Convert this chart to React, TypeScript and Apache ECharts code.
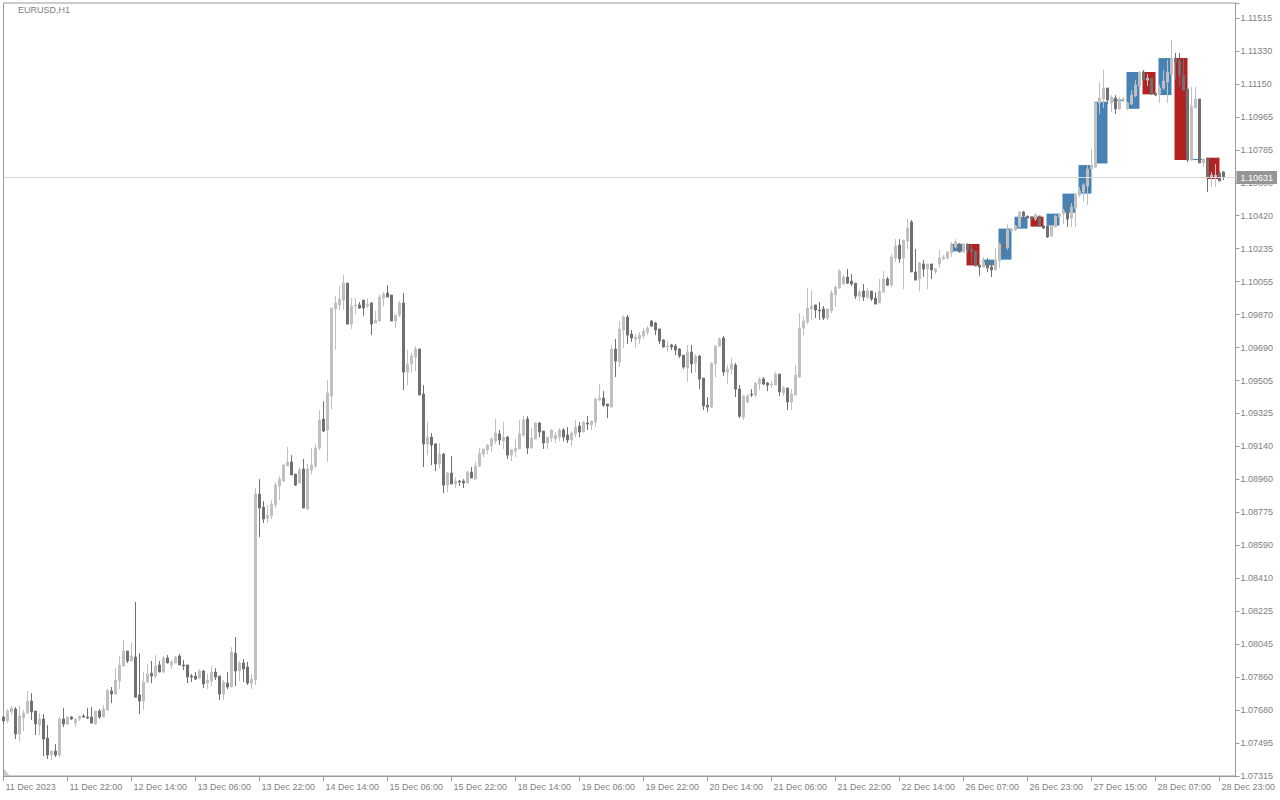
import React, { useEffect, useRef } from 'react';
import * as echarts from 'echarts';

const chartTitle = 'EURUSD,H1';
const lastPrice = 1.10631;

const xTickLabels = [
  '11 Dec 2023', '11 Dec 22:00', '12 Dec 14:00', '13 Dec 06:00', '13 Dec 22:00',
  '14 Dec 14:00', '15 Dec 06:00', '15 Dec 22:00', '18 Dec 14:00', '19 Dec 06:00',
  '19 Dec 22:00', '20 Dec 14:00', '21 Dec 06:00', '21 Dec 22:00', '22 Dec 14:00',
  '26 Dec 07:00', '26 Dec 23:00', '27 Dec 15:00', '28 Dec 07:00', '28 Dec 23:00',
];

const yTickLabels = [
  '1.07315', '1.07495', '1.07680', '1.07860', '1.08045', '1.08225', '1.08410', '1.08590',
  '1.08775', '1.08960', '1.09140', '1.09325', '1.09505', '1.09690', '1.09870', '1.10055',
  '1.10235', '1.10420', '1.10600', '1.10785', '1.10965', '1.11150', '1.11330', '1.11515',
];

const opens = [
  1.07642, 1.07620, 1.07670, 1.07686, 1.07548, 1.07636, 1.07664, 1.07730, 1.07675, 1.07597,
  1.07631, 1.07525, 1.07431, 1.07453, 1.07431, 1.07631, 1.07603, 1.07642, 1.07608, 1.07631,
  1.07647, 1.07642, 1.07642, 1.07603, 1.07675, 1.07642, 1.07681, 1.07786, 1.07769, 1.07841,
  1.07924, 1.08007, 1.07952, 1.07974, 1.07764, 1.07730, 1.07836, 1.07885, 1.07869, 1.07930,
  1.07891, 1.07969, 1.07930, 1.07941, 1.07980, 1.07930, 1.07930, 1.07869, 1.07869, 1.07858,
  1.07897, 1.07830, 1.07841, 1.07891, 1.07869, 1.07769, 1.07830, 1.07808, 1.07996, 1.07897,
  1.07941, 1.07919, 1.07830, 1.07847, 1.08877, 1.08805, 1.08744, 1.08755, 1.08817, 1.08922,
  1.08949, 1.09033, 1.09055, 1.08988, 1.08938, 1.09016, 1.08794, 1.09010, 1.09033, 1.09132,
  1.09293, 1.09232, 1.09420, 1.09903, 1.09925, 1.09952, 1.10046, 1.09819, 1.09919, 1.09925,
  1.09952, 1.09919, 1.09936, 1.09825, 1.09836, 1.09963, 1.09991, 1.09980, 1.09836, 1.09869,
  1.09936, 1.09553, 1.09598, 1.09636, 1.09681, 1.09432, 1.09155, 1.09193, 1.09155, 1.09044,
  1.09099, 1.08927, 1.08994, 1.08933, 1.08949, 1.08949, 1.08938, 1.08999, 1.08960, 1.09033,
  1.09099, 1.09121, 1.09143, 1.09171, 1.09210, 1.09171, 1.09193, 1.09093, 1.09115, 1.09127,
  1.09204, 1.09293, 1.09132, 1.09182, 1.09271, 1.09226, 1.09160, 1.09188, 1.09182, 1.09193,
  1.09232, 1.09204, 1.09177, 1.09210, 1.09254, 1.09221, 1.09271, 1.09260, 1.09276, 1.09398,
  1.09409, 1.09376, 1.09359, 1.09681, 1.09609, 1.09786, 1.09858, 1.09764, 1.09736, 1.09736,
  1.09753, 1.09775, 1.09836, 1.09825, 1.09792, 1.09731, 1.09692, 1.09703, 1.09697, 1.09681,
  1.09647, 1.09576, 1.09664, 1.09603, 1.09642, 1.09520, 1.09370, 1.09359, 1.09598, 1.09697,
  1.09742, 1.09553, 1.09570, 1.09592, 1.09459, 1.09304, 1.09387, 1.09431, 1.09426, 1.09487,
  1.09515, 1.09492, 1.09481, 1.09481, 1.09542, 1.09437, 1.09465, 1.09387, 1.09426, 1.09526,
  1.09797, 1.09831, 1.09903, 1.09925, 1.09897, 1.09903, 1.09853, 1.09892, 1.09980, 1.10019,
  1.10041, 1.10080, 1.10057, 1.10046, 1.09974, 1.10002, 1.09969, 1.10002, 1.09963, 1.09936,
  1.09996, 1.10069, 1.10035, 1.10185, 1.10257, 1.10185, 1.10279, 1.10385, 1.10108, 1.10069,
  1.10152, 1.10124, 1.10152, 1.10108, 1.10152, 1.10180, 1.10185, 1.10213, 1.10246, 1.10263,
  1.10218, 1.10263, 1.10235, 1.10224, 1.10146, 1.10135, 1.10158, 1.10135, 1.10119, 1.10168,
  1.10263, 1.10241, 1.10335, 1.10340, 1.10357, 1.10440, 1.10418, 1.10413, 1.10401, 1.10418,
  1.10363, 1.10363, 1.10307, 1.10357, 1.10413, 1.10429, 1.10435, 1.10407, 1.10462, 1.10534,
  1.10551, 1.10584, 1.10678, 1.10689, 1.11044, 1.11066, 1.11127, 1.11044, 1.11072, 1.11011,
  1.11061, 1.11011, 1.11038, 1.11083, 1.11138, 1.11216, 1.11171, 1.11182, 1.11099, 1.11094,
  1.11127, 1.11160, 1.11205, 1.11293, 1.11277, 1.11199, 1.11122, 1.10728, 1.11016, 1.11066,
  1.10712, 1.10739, 1.10634, 1.10634, 1.10656, 1.10662,
];

const highs = [
  1.07647, 1.07686, 1.07703, 1.07697, 1.07703, 1.07681, 1.07786, 1.07774, 1.07675, 1.07664,
  1.07658, 1.07597, 1.07453, 1.07492, 1.07642, 1.07692, 1.07642, 1.07647, 1.07631, 1.07647,
  1.07658, 1.07692, 1.07697, 1.07675, 1.07686, 1.07708, 1.07797, 1.07808, 1.07913, 1.07980,
  1.08068, 1.08007, 1.08052, 1.08279, 1.07996, 1.07891, 1.07935, 1.07952, 1.07985, 1.07952,
  1.07980, 1.07985, 1.07958, 1.07980, 1.07991, 1.07958, 1.07930, 1.07880, 1.07891, 1.07908,
  1.07902, 1.07880, 1.07924, 1.07913, 1.07869, 1.07847, 1.07891, 1.08029, 1.08085, 1.07952,
  1.07963, 1.07947, 1.07880, 1.08911, 1.08960, 1.08838, 1.08817, 1.08844, 1.08944, 1.08977,
  1.09044, 1.09138, 1.09093, 1.08988, 1.09027, 1.09071, 1.09044, 1.09132, 1.09154, 1.09343,
  1.09392, 1.09509, 1.09908, 1.09974, 1.10030, 1.10091, 1.10046, 1.09963, 1.09963, 1.09941,
  1.09952, 1.09963, 1.09941, 1.09892, 1.09985, 1.09996, 1.10035, 1.09980, 1.09869, 1.09947,
  1.09991, 1.09675, 1.09659, 1.09697, 1.09681, 1.09481, 1.09276, 1.09215, 1.09160, 1.09160,
  1.09104, 1.08999, 1.09088, 1.08971, 1.08955, 1.08960, 1.09005, 1.09027, 1.09055, 1.09132,
  1.09127, 1.09154, 1.09193, 1.09293, 1.09232, 1.09276, 1.09199, 1.09127, 1.09182, 1.09287,
  1.09309, 1.09309, 1.09243, 1.09276, 1.09276, 1.09226, 1.09193, 1.09237, 1.09221, 1.09243,
  1.09243, 1.09248, 1.09226, 1.09287, 1.09276, 1.09282, 1.09309, 1.09282, 1.09409, 1.09487,
  1.09448, 1.09376, 1.09703, 1.09736, 1.09836, 1.09869, 1.09869, 1.09786, 1.09764, 1.09775,
  1.09797, 1.09808, 1.09842, 1.09831, 1.09792, 1.09736, 1.09725, 1.09709, 1.09709, 1.09686,
  1.09647, 1.09703, 1.09703, 1.09653, 1.09647, 1.09520, 1.09415, 1.09609, 1.09703, 1.09747,
  1.09753, 1.09592, 1.09631, 1.09603, 1.09481, 1.09426, 1.09431, 1.09459, 1.09498, 1.09526,
  1.09526, 1.09498, 1.09503, 1.09553, 1.09542, 1.09476, 1.09465, 1.09459, 1.09592, 1.09880,
  1.09864, 1.10019, 1.10008, 1.09925, 1.09941, 1.09919, 1.09908, 1.10008, 1.10035, 1.10124,
  1.10091, 1.10124, 1.10096, 1.10046, 1.10008, 1.10041, 1.10019, 1.10002, 1.09996, 1.10069,
  1.10113, 1.10080, 1.10207, 1.10290, 1.10290, 1.10285, 1.10401, 1.10396, 1.10235, 1.10163,
  1.10174, 1.10152, 1.10152, 1.10130, 1.10230, 1.10202, 1.10224, 1.10274, 1.10290, 1.10268,
  1.10268, 1.10263, 1.10257, 1.10224, 1.10146, 1.10191, 1.10185, 1.10163, 1.10241, 1.10268,
  1.10324, 1.10374, 1.10351, 1.10368, 1.10446, 1.10446, 1.10418, 1.10413, 1.10435, 1.10418,
  1.10363, 1.10363, 1.10363, 1.10424, 1.10429, 1.10457, 1.10496, 1.10490, 1.10540, 1.10578,
  1.10601, 1.10700, 1.10789, 1.11044, 1.11160, 1.11227, 1.11127, 1.11088, 1.11088, 1.11077,
  1.11077, 1.11050, 1.11116, 1.11171, 1.11216, 1.11227, 1.11205, 1.11182, 1.11099, 1.11144,
  1.11227, 1.11282, 1.11393, 1.11321, 1.11321, 1.11288, 1.11122, 1.11133, 1.11133, 1.11066,
  1.10734, 1.10739, 1.10662, 1.10706, 1.10667, 1.10667,
];

const lows = [
  1.07603, 1.07608, 1.07653, 1.07520, 1.07503, 1.07564, 1.07658, 1.07625, 1.07542, 1.07542,
  1.07425, 1.07409, 1.07404, 1.07420, 1.07420, 1.07586, 1.07597, 1.07625, 1.07586, 1.07620,
  1.07636, 1.07631, 1.07608, 1.07603, 1.07631, 1.07642, 1.07675, 1.07719, 1.07769, 1.07797,
  1.07919, 1.07941, 1.07952, 1.07752, 1.07658, 1.07681, 1.07830, 1.07830, 1.07858, 1.07891,
  1.07885, 1.07941, 1.07908, 1.07941, 1.07930, 1.07902, 1.07830, 1.07836, 1.07847, 1.07852,
  1.07802, 1.07797, 1.07814, 1.07847, 1.07736, 1.07736, 1.07797, 1.07808, 1.07814, 1.07841,
  1.07836, 1.07819, 1.07797, 1.07819, 1.08639, 1.08717, 1.08717, 1.08739, 1.08800, 1.08844,
  1.08944, 1.09033, 1.08983, 1.08922, 1.08938, 1.08800, 1.08789, 1.08988, 1.09021, 1.09121,
  1.09221, 1.09055, 1.09348, 1.09675, 1.09897, 1.09897, 1.09819, 1.09792, 1.09875, 1.09903,
  1.09864, 1.09908, 1.09758, 1.09825, 1.09836, 1.09919, 1.09969, 1.09836, 1.09797, 1.09858,
  1.09454, 1.09481, 1.09548, 1.09559, 1.09426, 1.09027, 1.09093, 1.09038, 1.09005, 1.09021,
  1.08883, 1.08888, 1.08933, 1.08911, 1.08922, 1.08911, 1.08938, 1.08966, 1.08960, 1.09027,
  1.09082, 1.09099, 1.09110, 1.09154, 1.09149, 1.09127, 1.09071, 1.09060, 1.09082, 1.09127,
  1.09193, 1.09099, 1.09132, 1.09182, 1.09193, 1.09127, 1.09127, 1.09165, 1.09160, 1.09171,
  1.09171, 1.09160, 1.09143, 1.09193, 1.09193, 1.09221, 1.09232, 1.09232, 1.09248, 1.09392,
  1.09359, 1.09298, 1.09359, 1.09526, 1.09581, 1.09687, 1.09709, 1.09720, 1.09687, 1.09709,
  1.09736, 1.09758, 1.09803, 1.09758, 1.09709, 1.09687, 1.09664, 1.09675, 1.09647, 1.09631,
  1.09570, 1.09498, 1.09548, 1.09553, 1.09459, 1.09343, 1.09332, 1.09354, 1.09526, 1.09692,
  1.09531, 1.09487, 1.09542, 1.09415, 1.09298, 1.09287, 1.09381, 1.09415, 1.09415, 1.09454,
  1.09481, 1.09448, 1.09465, 1.09481, 1.09420, 1.09420, 1.09343, 1.09343, 1.09426, 1.09520,
  1.09758, 1.09819, 1.09842, 1.09853, 1.09842, 1.09842, 1.09842, 1.09880, 1.09914, 1.10013,
  1.10035, 1.10041, 1.10030, 1.09958, 1.09947, 1.09947, 1.09958, 1.09947, 1.09930, 1.09936,
  1.09996, 1.10030, 1.10024, 1.10163, 1.10158, 1.10013, 1.10235, 1.10108, 1.10063, 1.10000,
  1.10080, 1.10013, 1.10069, 1.10097, 1.10130, 1.10174, 1.10174, 1.10191, 1.10241, 1.10218,
  1.10213, 1.10213, 1.10158, 1.10141, 1.10086, 1.10135, 1.10108, 1.10080, 1.10119, 1.10130,
  1.10196, 1.10230, 1.10329, 1.10335, 1.10357, 1.10390, 1.10407, 1.10401, 1.10390, 1.10357,
  1.10346, 1.10296, 1.10302, 1.10357, 1.10401, 1.10374, 1.10357, 1.10357, 1.10357, 1.10523,
  1.10496, 1.10479, 1.10617, 1.10684, 1.10983, 1.11016, 1.11038, 1.10994, 1.10983, 1.11005,
  1.11050, 1.11005, 1.11033, 1.11077, 1.11088, 1.11171, 1.11138, 1.11088, 1.11083, 1.11044,
  1.11116, 1.11044, 1.11205, 1.11171, 1.11138, 1.11116, 1.10717, 1.10723, 1.11016, 1.10712,
  1.10689, 1.10551, 1.10579, 1.10579, 1.10612, 1.10617,
];

const closes = [
  1.07620, 1.07675, 1.07691, 1.07548, 1.07647, 1.07664, 1.07730, 1.07670, 1.07603, 1.07631,
  1.07520, 1.07431, 1.07453, 1.07431, 1.07631, 1.07603, 1.07642, 1.07631, 1.07631, 1.07647,
  1.07642, 1.07636, 1.07608, 1.07675, 1.07642, 1.07686, 1.07791, 1.07769, 1.07847, 1.07930,
  1.08007, 1.07952, 1.07980, 1.07752, 1.07730, 1.07836, 1.07880, 1.07869, 1.07924, 1.07891,
  1.07969, 1.07941, 1.07947, 1.07974, 1.07930, 1.07924, 1.07863, 1.07863, 1.07852, 1.07897,
  1.07825, 1.07847, 1.07891, 1.07863, 1.07769, 1.07836, 1.07808, 1.08002, 1.07897, 1.07941,
  1.07908, 1.07830, 1.07852, 1.08877, 1.08800, 1.08739, 1.08761, 1.08822, 1.08927, 1.08960,
  1.09038, 1.09055, 1.08983, 1.08927, 1.09010, 1.08800, 1.09016, 1.09038, 1.09132, 1.09287,
  1.09226, 1.09437, 1.09908, 1.09936, 1.09958, 1.10046, 1.09819, 1.09919, 1.09925, 1.09908,
  1.09908, 1.09930, 1.09819, 1.09842, 1.09969, 1.09985, 1.09969, 1.09836, 1.09869, 1.09936,
  1.09553, 1.09598, 1.09642, 1.09681, 1.09426, 1.09155, 1.09193, 1.09149, 1.09044, 1.09099,
  1.08927, 1.08994, 1.08933, 1.08949, 1.08944, 1.08938, 1.08999, 1.08966, 1.09033, 1.09104,
  1.09127, 1.09149, 1.09182, 1.09215, 1.09177, 1.09193, 1.09093, 1.09121, 1.09132, 1.09210,
  1.09287, 1.09132, 1.09188, 1.09271, 1.09221, 1.09160, 1.09193, 1.09232, 1.09204, 1.09232,
  1.09193, 1.09177, 1.09215, 1.09248, 1.09221, 1.09276, 1.09265, 1.09282, 1.09404, 1.09409,
  1.09370, 1.09365, 1.09681, 1.09614, 1.09792, 1.09858, 1.09758, 1.09742, 1.09747, 1.09758,
  1.09781, 1.09797, 1.09808, 1.09786, 1.09725, 1.09692, 1.09697, 1.09692, 1.09675, 1.09642,
  1.09581, 1.09664, 1.09598, 1.09642, 1.09515, 1.09365, 1.09359, 1.09603, 1.09697, 1.09736,
  1.09553, 1.09570, 1.09598, 1.09459, 1.09309, 1.09420, 1.09420, 1.09426, 1.09492, 1.09515,
  1.09487, 1.09481, 1.09487, 1.09542, 1.09443, 1.09465, 1.09387, 1.09431, 1.09537, 1.09797,
  1.09836, 1.09908, 1.09919, 1.09897, 1.09892, 1.09853, 1.09903, 1.09991, 1.10024, 1.10113,
  1.10080, 1.10046, 1.10041, 1.09974, 1.09996, 1.09969, 1.10002, 1.09958, 1.09930, 1.10002,
  1.10069, 1.10035, 1.10191, 1.10252, 1.10180, 1.10285, 1.10351, 1.10108, 1.10063, 1.10158,
  1.10124, 1.10152, 1.10119, 1.10124, 1.10185, 1.10191, 1.10218, 1.10257, 1.10274, 1.10218,
  1.10263, 1.10230, 1.10218, 1.10141, 1.10135, 1.10163, 1.10130, 1.10119, 1.10174, 1.10263,
  1.10241, 1.10340, 1.10346, 1.10362, 1.10440, 1.10418, 1.10407, 1.10401, 1.10424, 1.10363,
  1.10351, 1.10302, 1.10363, 1.10418, 1.10429, 1.10446, 1.10401, 1.10468, 1.10540, 1.10556,
  1.10590, 1.10678, 1.10700, 1.11044, 1.11072, 1.11127, 1.11061, 1.11077, 1.11011, 1.11061,
  1.11066, 1.11044, 1.11088, 1.11144, 1.11216, 1.11171, 1.11182, 1.11094, 1.11088, 1.11127,
  1.11166, 1.11216, 1.11293, 1.11271, 1.11194, 1.11116, 1.10728, 1.11027, 1.11066, 1.10712,
  1.10734, 1.10634, 1.10645, 1.10645, 1.10612, 1.10631,
];

// H4 overlay boxes: first H1 bar of the block, open and close of the block
const boxStarts = [237, 241, 245, 249, 253, 257, 261, 265, 269, 273, 277, 281, 285, 289, 293, 297, 301];
const boxOpens = [
  1.10222, 1.10263, 1.10144, 1.10176, 1.10348, 1.10414, 1.10365, 1.10436, 1.10542,
  1.10709, 1.11055, 1.11012, 1.11216, 1.11088, 1.11293, 1.10728, 1.10741,
];
const boxCloses = [
  1.10263, 1.10144, 1.10176, 1.10348, 1.10414, 1.10359, 1.10431, 1.10542, 1.10700,
  1.11051, 1.11063, 1.11216, 1.11092, 1.11293, 1.10728, 1.10734, 1.10623,
];

const SLOTS = 309;
const Y_MIN = 1.07315;
const Y_STEP = (1.11515 - 1.07315) / 23;
const Y_MAX = 1.07315 + Y_STEP * (773 / 32.956);
const FONT = '"Liberation Sans", Arial, sans-serif';
const TEXT = '#808080';
const FRAME = '#9a9a9a';
const BULL = '#c0c0c0';
const BEAR = '#707070';
const BOX_UP = '#4682b4';
const BOX_DOWN = '#b22222';

export default function App() {
  const ref = useRef<HTMLDivElement>(null);

  useEffect(() => {
    if (!ref.current) return;
    const chart = echarts.init(ref.current, null, { renderer: 'svg' });
    const cats = Array.from({ length: SLOTS }, (_, i) => String(i));
    const candles = opens.map((o, i) => [o, closes[i], lows[i], highs[i]]);
    const boxes = boxStarts.map((s, i) => [s, boxOpens[i], boxCloses[i]]);

    chart.setOption({
      animation: false,
      backgroundColor: '#ffffff',
      grid: {
        left: 3.5,
        right: 44.5,
        top: 3,
        bottom: 24,
        show: true,
        borderColor: FRAME,
        borderWidth: 1,
        backgroundColor: '#ffffff',
      },
      xAxis: {
        type: 'category',
        data: cats,
        boundaryGap: false,
        axisLine: { show: true, lineStyle: { color: FRAME, width: 1 } },
        axisTick: { show: true, interval: 15, length: 5, lineStyle: { color: FRAME } },
        axisLabel: {
          interval: 15,
          align: 'left',
          margin: 6,
          padding: [0, 0, 0, 2],
          color: TEXT,
          fontSize: 9,
          fontFamily: FONT,
          formatter: (_v: string, idx: number) =>
            idx % 16 === 0 && xTickLabels[idx / 16] ? xTickLabels[idx / 16] : '',
        },
        splitLine: { show: false },
      },
      yAxis: {
        type: 'value',
        position: 'right',
        min: Y_MIN,
        max: Y_MAX,
        interval: Y_STEP,
        axisLine: { show: true, lineStyle: { color: FRAME, width: 1 } },
        axisTick: { show: true, length: 4, lineStyle: { color: FRAME } },
        splitLine: { show: false },
        axisLabel: {
          margin: 5,
          color: TEXT,
          fontSize: 9,
          fontFamily: FONT,
          formatter: (v: number) => {
            const f = (v - Y_MIN) / Y_STEP;
            const i = Math.round(f);
            return Math.abs(f - i) < 0.05 && i >= 0 && i < yTickLabels.length ? yTickLabels[i] : '';
          },
        },
      },
      graphic: [
        {
          type: 'text',
          left: 18,
          top: 5,
          silent: true,
          style: { text: chartTitle, fill: TEXT, font: `9px ${FONT}` },
        },
        {
          type: 'polygon',
          silent: true,
          shape: { points: [[4, 769], [4, 776], [10, 776]] },
          style: { fill: '#c8c8c8' },
        },
      ],
      series: [
        {
          type: 'custom',
          name: 'H4',
          z: 1,
          clip: true,
          silent: true,
          data: boxes,
          encode: { x: 0, y: [1, 2] },
          renderItem: (_params: any, api: any) => {
            const s = api.value(0);
            const o = api.value(1);
            const c = api.value(2);
            const bw = api.size([1, 0])[0];
            const pTop = api.coord([s, Math.max(o, c)]);
            const pBot = api.coord([s, Math.min(o, c)]);
            const h = Math.max(1, pBot[1] - pTop[1]);
            return {
              type: 'rect',
              shape: { x: pTop[0] - 1, y: pTop[1], width: bw * 3 + 1, height: h },
              style: { fill: c >= o ? BOX_UP : BOX_DOWN },
            };
          },
        },
        {
          type: 'candlestick',
          name: 'EURUSD',
          z: 3,
          barWidth: 2,
          silent: true,
          data: candles,
          itemStyle: {
            color: BULL,
            color0: BEAR,
            borderColor: BULL,
            borderColor0: BEAR,
            borderWidth: 1,
          },
          markLine: {
            silent: true,
            precision: 5,
            symbol: ['none', 'none'],
            data: [{ yAxis: lastPrice }],
            lineStyle: { color: '#d6d6d6', width: 1, type: 'solid' },
            label: {
              show: true,
              position: 'end',
              distance: 1,
              formatter: lastPrice.toFixed(5),
              color: '#ffffff',
              backgroundColor: '#959595',
              padding: [1, 4, 1, 4],
              lineHeight: 11,
              fontSize: 9,
              fontFamily: FONT,
            },
          },
        },
      ],
    });

    return () => chart.dispose();
  }, []);

  return (
    <div
      ref={ref}
      style={{ position: 'absolute', left: 0, top: 0, width: 1280, height: 800, background: '#ffffff' }}
    />
  );
}
